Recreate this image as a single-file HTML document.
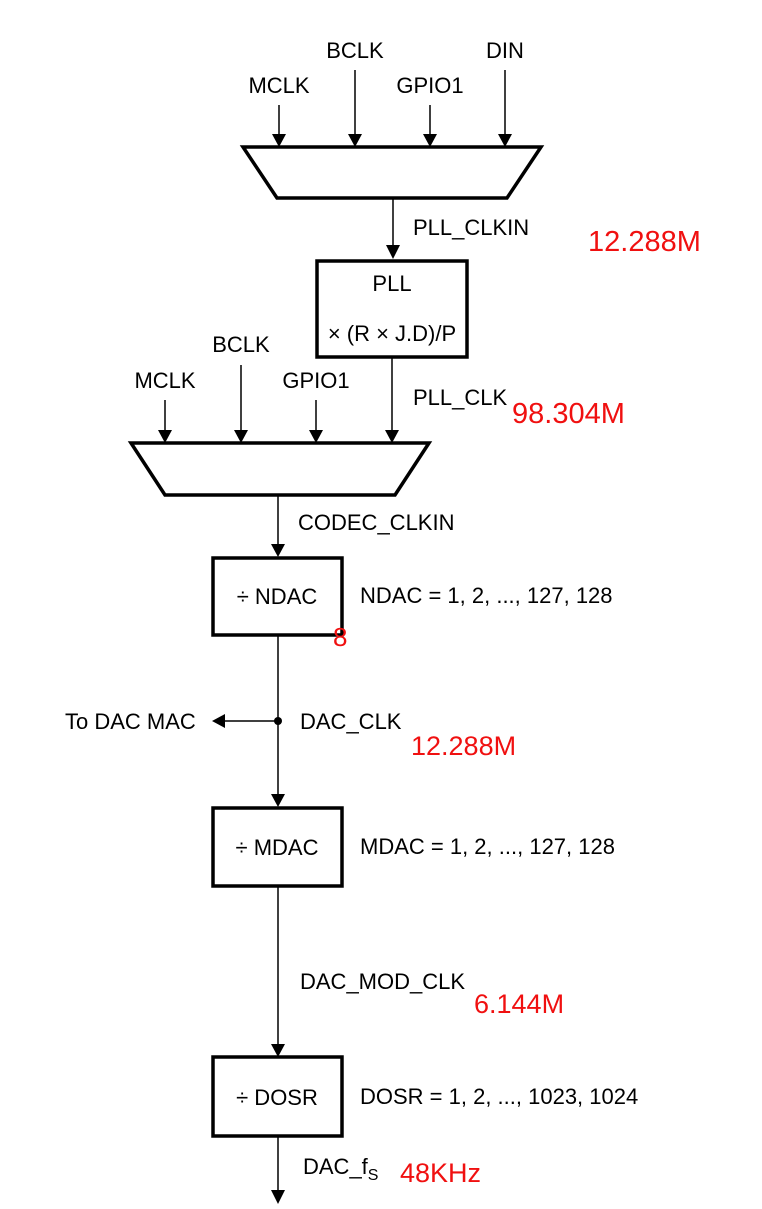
<!DOCTYPE html>
<html><head><meta charset="utf-8"><style>
html,body{margin:0;padding:0;background:#fff;width:762px;height:1209px;overflow:hidden}
svg{display:block}
.t{font-family:"Liberation Sans",Arial,sans-serif;font-size:22px;fill:#000}
.r{font-family:"Liberation Sans",Arial,sans-serif;fill:#f01010}
</style></head><body>
<svg width="762" height="1209" viewBox="0 0 762 1209" xmlns="http://www.w3.org/2000/svg">
<g stroke="#000" stroke-width="1.5">
<line x1="279" y1="105" x2="279" y2="135"/>
<line x1="355" y1="70" x2="355" y2="135"/>
<line x1="430" y1="105" x2="430" y2="135"/>
<line x1="505" y1="70" x2="505" y2="135"/>
<line x1="393" y1="198" x2="393" y2="246"/>
<line x1="165" y1="400" x2="165" y2="431"/>
<line x1="241" y1="365" x2="241" y2="431"/>
<line x1="316" y1="400" x2="316" y2="431"/>
<line x1="392" y1="358" x2="392" y2="431"/>
<line x1="278" y1="495" x2="278" y2="545"/>
<line x1="278" y1="636" x2="278" y2="795"/>
<line x1="278" y1="721" x2="224" y2="721"/>
<line x1="278" y1="887" x2="278" y2="1045"/>
<line x1="278" y1="1137" x2="278" y2="1191"/>
</g>
<g fill="#000">
<path d="M272,134 L286,134 L279,147 Z"/>
<path d="M348,134 L362,134 L355,147 Z"/>
<path d="M423,134 L437,134 L430,147 Z"/>
<path d="M498,134 L512,134 L505,147 Z"/>
<path d="M386,245 L400,245 L393,259 Z"/>
<path d="M158,430 L172,430 L165,443 Z"/>
<path d="M234,430 L248,430 L241,443 Z"/>
<path d="M309,430 L323,430 L316,443 Z"/>
<path d="M385,430 L399,430 L392,443 Z"/>
<path d="M271,544 L285,544 L278,557 Z"/>
<path d="M271,794 L285,794 L278,807 Z"/>
<path d="M271,1044 L285,1044 L278,1057 Z"/>
<path d="M271,1190 L285,1190 L278,1204 Z"/>
<path d="M225,714 L225,728 L212,721 Z"/>
<circle cx="278" cy="721" r="4"/>
</g>
<g stroke="#000" stroke-width="3.5" fill="#fff">
<path d="M243,147 L541,147 L507,198 L277,198 Z"/>
<path d="M131,443 L429,443 L395,495 L165,495 Z"/>
<rect x="317" y="261" width="150" height="96"/>
<rect x="213" y="558" width="129" height="77"/>
<rect x="213" y="808" width="129" height="78"/>
<rect x="213" y="1057" width="129" height="79"/>
</g>
<g class="t">
<text x="279" y="93" text-anchor="middle">MCLK</text>
<text x="355" y="58" text-anchor="middle">BCLK</text>
<text x="430" y="93" text-anchor="middle">GPIO1</text>
<text x="505" y="58" text-anchor="middle">DIN</text>
<text x="413" y="235">PLL_CLKIN</text>
<text x="392" y="291" text-anchor="middle">PLL</text>
<text x="392" y="341" text-anchor="middle">× (R × J.D)/P</text>
<text x="165" y="388" text-anchor="middle">MCLK</text>
<text x="241" y="352" text-anchor="middle">BCLK</text>
<text x="316" y="388" text-anchor="middle">GPIO1</text>
<text x="413" y="405">PLL_CLK</text>
<text x="298" y="530">CODEC_CLKIN</text>
<text x="277" y="604" text-anchor="middle">÷ NDAC</text>
<text x="360" y="603">NDAC = 1, 2, ..., 127, 128</text>
<text x="65" y="729">To DAC MAC</text>
<text x="300" y="729">DAC_CLK</text>
<text x="277" y="855" text-anchor="middle">÷ MDAC</text>
<text x="360" y="854">MDAC = 1, 2, ..., 127, 128</text>
<text x="300" y="989">DAC_MOD_CLK</text>
<text x="277" y="1105" text-anchor="middle">÷ DOSR</text>
<text x="360" y="1104">DOSR = 1, 2, ..., 1023, 1024</text>
<text x="303" y="1174">DAC_f<tspan font-size="16" dy="6">S</tspan></text>
</g>
<g class="r">
<text x="588" y="251" font-size="29">12.288M</text>
<text x="512" y="423" font-size="29">98.304M</text>
<text x="333" y="646" font-size="26">8</text>
<text x="411" y="755" font-size="27">12.288M</text>
<text x="474" y="1013" font-size="27">6.144M</text>
<text x="400" y="1182" font-size="27">48KHz</text>
</g>
</svg>
</body></html>
